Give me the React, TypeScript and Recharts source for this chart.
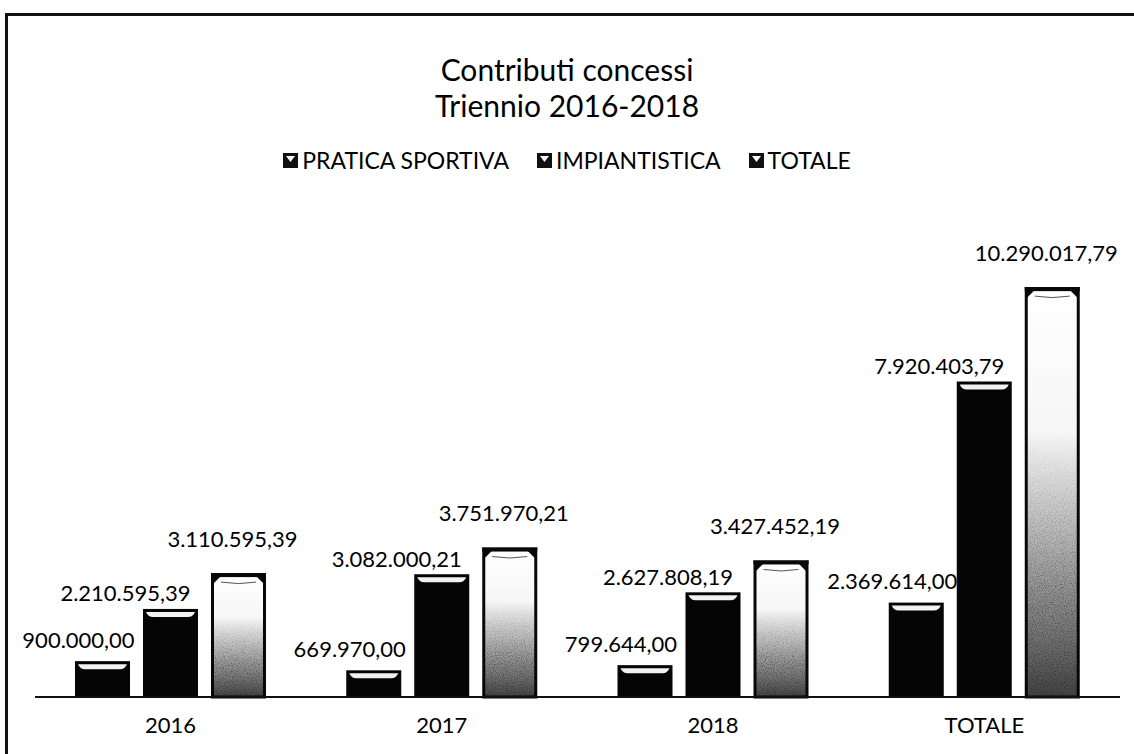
import { Bar, BarChart, LabelList, Legend, XAxis, YAxis } from "recharts"

const categories = ["2016", "2017", "2018", "TOTALE"]
const praticaSportiva = [900000.0, 669970.0, 799644.0, 2369614.0]
const impiantistica = [2210595.39, 3082000.21, 2627808.19, 7920403.79]
const totale = [3110595.39, 3751970.21, 3427452.19, 10290017.79]

const seriesNames = ["PRATICA SPORTIVA", "IMPIANTISTICA", "TOTALE"]
const titleLines = ["Contributi concessi", "Triennio 2016-2018"]

const data = categories.map((c, i) => ({
    name: c,
    pratica: praticaSportiva[i],
    impianti: impiantistica[i],
    totale: totale[i],
}))

const FONT = "Lato, 'Noto Sans', sans-serif"

// formato italiano: 1.234.567,89
function fmt(v: number) {
    const [int, dec] = v.toFixed(2).split(".")
    return int.replace(/\B(?=(\d{3})+(?!\d))/g, ".") + "," + dec
}

function DarkCylinder(props: any) {
    const { x, y, width: w, height: h } = props
    if (!h || h <= 0) return null
    return (
        <g>
            <rect x={x} y={y} width={w} height={h} fill="#050505" />
            <path
                d={`M${x + 3},${y + 3} L${x + w - 3},${y + 3} Q${x + w - 5},${y + 8} ${x + w - 10},${y + 8} L${x + 10},${y + 8} Q${x + 5},${y + 8} ${x + 3},${y + 3} Z`}
                fill="#f2f2f2"
            />
        </g>
    )
}

function LightCylinder(props: any) {
    const { x, y, width: w, height: h } = props
    if (!h || h <= 0) return null
    return (
        <g>
            <rect x={x + 1.5} y={y + 1.5} width={w - 3} height={h - 1.5} fill="url(#totGrad)" stroke="#080808" strokeWidth={3} />
            <rect x={x + 1.5} y={y + 1.5} width={w - 3} height={h - 1.5} fill="#000" filter="url(#grain)" mask="url(#grainMask)" opacity={0.4} />
            <rect x={x} y={y} width={w} height={4} fill="#080808" />
            <path d={`M${x},${y} L${x + 10},${y + 3} L${x + 2},${y + 11} Z`} fill="#080808" />
            <path d={`M${x + w},${y} L${x + w - 10},${y + 3} L${x + w - 2},${y + 11} Z`} fill="#080808" />
            <path d={`M${x + 10},${y + 9} Q${x + w / 2},${y + 12} ${x + w - 10},${y + 9}`} stroke="#555" strokeWidth={1} fill="none" />
        </g>
    )
}

function makeLabel(dx: number, dy: number) {
    return (props: any) => {
        const { x, y, width, value } = props
        return (
            <text
                x={x + width / 2 + dx}
                y={y + dy}
                textAnchor="middle"
                dominantBaseline="central"
                fontFamily={FONT}
                fontSize={22}
                fill="#000"
            >
                {fmt(value)}
            </text>
        )
    }
}

function LegendIcon() {
    return (
        <svg width={15} height={15} style={{ marginRight: 4 }}>
            <rect x={0} y={0} width={15} height={15} fill="#111" />
            <path d="M3,3 L12,3 L7.5,9 Z" fill="#fff" />
        </svg>
    )
}

function renderLegend() {
    return (
        <div style={{ display: "flex", justifyContent: "center", alignItems: "center", fontFamily: FONT, fontSize: 23, color: "#000" }}>
            {seriesNames.map((n) => (
                <span key={n} style={{ display: "flex", alignItems: "center", margin: "0 14px" }}>
                    <LegendIcon />
                    {n}
                </span>
            ))}
        </div>
    )
}

export default function App() {
    return (
        <div style={{ position: "absolute", left: 0, top: 0, width: 1134, height: 754, background: "#fff", overflow: "hidden" }}>
            <div style={{ position: "absolute", left: 5, top: 13, width: 1140, height: 760, borderTop: "3px solid #111", borderLeft: "3px solid #111" }} />
            {titleLines.map((t, i) => (
                <div
                    key={t}
                    style={{ position: "absolute", left: 0, top: 51 + i * 36, width: 1134, height: 36, textAlign: "center", fontFamily: FONT, fontSize: 30, lineHeight: "36px", color: "#000" }}
                >
                    {t}
                </div>
            ))}
            <BarChart
                width={1134}
                height={754}
                data={data}
                margin={{ top: 219, right: 14, bottom: 27, left: 35 }}
                barSize={55}
                barGap={13}
                style={{ position: "absolute", left: 0, top: 0 }}
            >
                <defs>
                    <linearGradient id="totGrad" x1="0" y1="0" x2="0" y2="1">
                        <stop offset="0" stopColor="#ffffff" />
                        <stop offset="0.35" stopColor="#f6f6f6" />
                        <stop offset="0.6" stopColor="#bbbbbb" />
                        <stop offset="0.85" stopColor="#767676" />
                        <stop offset="1" stopColor="#444444" />
                    </linearGradient>
                    <filter id="grain" x="0" y="0" width="100%" height="100%">
                        <feTurbulence type="fractalNoise" baseFrequency="0.9" numOctaves="2" seed="3" result="n" />
                        <feColorMatrix type="matrix" values="0 0 0 0 0  0 0 0 0 0  0 0 0 0 0  0 0 0 -2.2 1.3" />
                        <feComposite operator="in" in2="SourceGraphic" />
                    </filter>
                    <linearGradient id="grainFade" x1="0" y1="0" x2="0" y2="1">
                        <stop offset="0.35" stopColor="#000" />
                        <stop offset="0.75" stopColor="#fff" />
                    </linearGradient>
                    <mask id="grainMask" maskContentUnits="objectBoundingBox">
                        <rect x={0} y={0} width={1} height={1} fill="url(#grainFade)" />
                    </mask>
                </defs>
                <XAxis
                    dataKey="name"
                    axisLine={{ stroke: "#111", strokeWidth: 2 }}
                    tickLine={false}
                    tickMargin={14}
                    tick={{ fontFamily: FONT, fontSize: 22, fill: "#000" }}
                />
                <YAxis hide domain={[0, 12000000]} />
                <Legend
                    content={renderLegend}
                    layout="horizontal"
                    verticalAlign="middle"
                    align="center"
                    wrapperStyle={{ top: 146, left: 0, width: 1134 }}
                />
                <Bar dataKey="pratica" name={seriesNames[0]} fill="#050505" shape={DarkCylinder} isAnimationActive={false}>
                    <LabelList dataKey="pratica" content={makeLabel(-24, -22)} />
                </Bar>
                <Bar dataKey="impianti" name={seriesNames[1]} fill="#050505" shape={DarkCylinder} isAnimationActive={false}>
                    <LabelList dataKey="impianti" content={makeLabel(-45, -16)} />
                </Bar>
                <Bar dataKey="totale" name={seriesNames[2]} fill="#eeeeee" shape={LightCylinder} isAnimationActive={false}>
                    <LabelList dataKey="totale" content={makeLabel(-6, -35)} />
                </Bar>
            </BarChart>
        </div>
    )
}
